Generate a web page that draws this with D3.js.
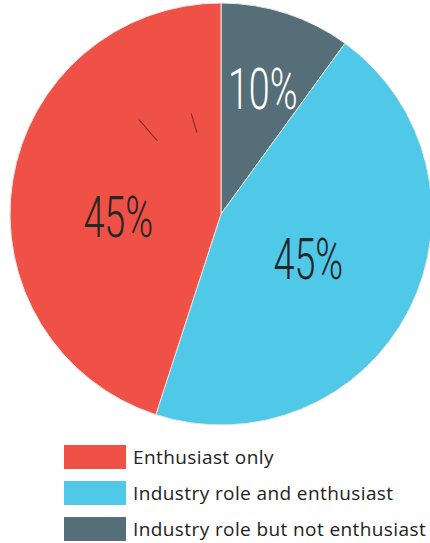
<!DOCTYPE html>
<html>
<head>
<meta charset="utf-8">
<script src="https://cdn.jsdelivr.net/npm/d3@7"></script>
<style>
  html, body { margin: 0; padding: 0; background: #fff; }
  svg { display: block; }
</style>
</head>
<body>
<svg id="chart" width="430" height="543"></svg>
<script>
// Respondent groups and their shares (percent)
const categories = ["Industry role but not enthusiast", "Industry role and enthusiast", "Enthusiast only"];
const values = [10, 45, 45];
const colors = ["#566e78", "#50c8e8", "#f05146"];
const labelColors = ["#ffffff", "#262626", "#262626"];
const legendOrder = ["Enthusiast only", "Industry role and enthusiast", "Industry role but not enthusiast"];

const svg = d3.select("#chart");
const cx = 221, cy = 214, r = 211;

const color = d3.scaleOrdinal().domain(categories).range(colors);
const textColor = d3.scaleOrdinal().domain(categories).range(labelColors);

const data = categories.map((c, i) => ({ category: c, value: values[i] }));

const pie = d3.pie().value(d => d.value).sort(null);
const arc = d3.arc().innerRadius(0).outerRadius(r);
const arcs = pie(data);

const g = svg.append("g").attr("transform", `translate(${cx},${cy})`);

g.selectAll("path.slice")
  .data(arcs)
  .join("path")
  .attr("class", "slice")
  .attr("d", arc)
  .attr("fill", d => color(d.data.category))
  .attr("stroke", "#e6e6e6")
  .attr("stroke-width", 1);

// Short radial guide marks inside the "Enthusiast only" slice
const guides = [
  { angle: 319, r0: 97, r1: 125 },
  { angle: 343.5, r0: 85, r1: 105 }
];
g.selectAll("line.guide")
  .data(guides)
  .join("line")
  .attr("class", "guide")
  .each(function (d) {
    const a = d.angle * Math.PI / 180;
    d3.select(this)
      .attr("x1", Math.sin(a) * d.r0).attr("y1", -Math.cos(a) * d.r0)
      .attr("x2", Math.sin(a) * d.r1).attr("y2", -Math.cos(a) * d.r1);
  })
  .attr("stroke", "#8e2c26")
  .attr("stroke-width", 1.2);

// Percentage labels: placed along each slice's mid-angle
const labelRadius = { "Industry role but not enthusiast": 132, "Industry role and enthusiast": 98, "Enthusiast only": 104 };
const labelNudge = { "Industry role but not enthusiast": [1, 0], "Industry role and enthusiast": [0, 0], "Enthusiast only": [0, 18] };

g.selectAll("text.pct")
  .data(arcs)
  .join("text")
  .attr("class", "pct")
  .attr("transform", d => {
    const mid = (d.startAngle + d.endAngle) / 2;
    const rr = labelRadius[d.data.category];
    const n = labelNudge[d.data.category];
    const x = Math.sin(mid) * rr + n[0];
    const y = -Math.cos(mid) * rr + n[1];
    return `translate(${x},${y}) scale(0.65,1)`;
  })
  .attr("text-anchor", "middle")
  .attr("dy", "0.36em")
  .attr("font-family", "Roboto, sans-serif")
  .attr("font-weight", 300)
  .attr("font-size", 58)
  .attr("fill", d => textColor(d.data.category))
  .text(d => d.data.value + "%");

// Legend
const legendY = d3.scaleBand().domain(legendOrder).range([445, 541]).paddingInner(1 / 3).paddingOuter(0);
const legend = svg.append("g");
const rows = legend.selectAll("g.row")
  .data(legendOrder)
  .join("g")
  .attr("class", "row")
  .attr("transform", d => `translate(64,${legendY(d)})`);

rows.append("rect")
  .attr("width", 62)
  .attr("height", legendY.bandwidth())
  .attr("fill", d => color(d));

rows.append("text")
  .attr("x", 69)
  .attr("y", legendY.bandwidth() / 2)
  .attr("dy", "0.36em")
  .attr("font-family", "'Open Sans', sans-serif")
  .attr("font-size", 19)
  .attr("letter-spacing", 0.4)
  .attr("fill", "#222")
  .text(d => d);
</script>
</body>
</html>
